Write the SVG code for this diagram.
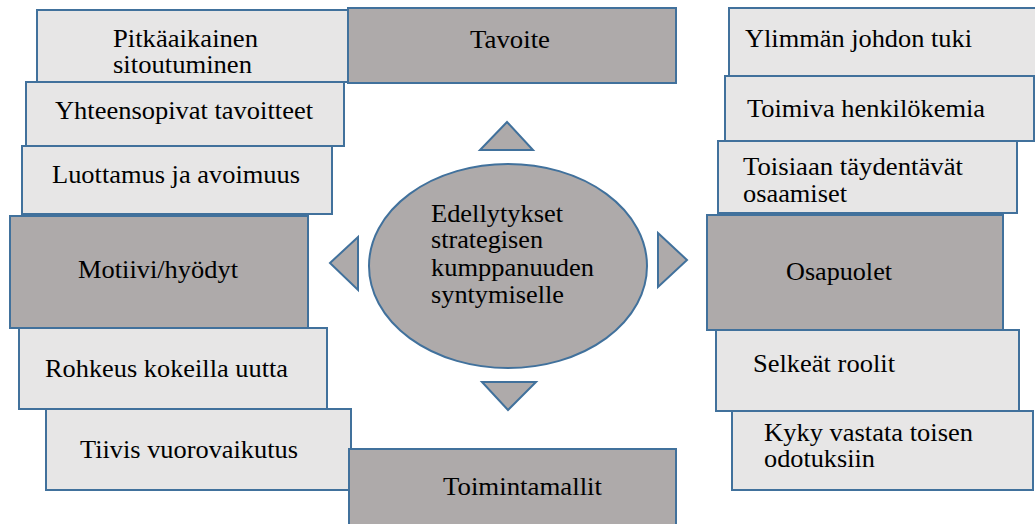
<svg xmlns="http://www.w3.org/2000/svg" width="1035" height="524" viewBox="0 0 1035 524">
<style>
.lt{fill:#e7e6e6;stroke:#41719c;stroke-width:2}
.dk{fill:#aeaaaa;stroke:#41719c;stroke-width:2}
text{font-family:'Liberation Serif','Times New Roman',serif;font-size:24.5px;fill:#000}
</style>
<rect width="1035" height="524" fill="#ffffff"/>
<g id="n-pitkaaikainen"><rect class="lt" x="37" y="10" width="311" height="72"/><text x="113" y="47" textLength="145" lengthAdjust="spacingAndGlyphs">Pitkäaikainen</text><text x="113" y="73" textLength="139" lengthAdjust="spacingAndGlyphs">sitoutuminen</text></g>
<g id="n-yhteensopivat"><rect class="lt" x="26" y="82" width="318" height="64"/><text x="55" y="119" textLength="258" lengthAdjust="spacingAndGlyphs">Yhteensopivat tavoitteet</text></g>
<g id="n-luottamus"><rect class="lt" x="22" y="146" width="310" height="68"/><text x="52" y="183" textLength="248" lengthAdjust="spacingAndGlyphs">Luottamus ja avoimuus</text></g>
<g id="n-motiivi"><rect class="dk" x="10" y="216" width="298" height="112"/><text x="78" y="278" textLength="160" lengthAdjust="spacingAndGlyphs">Motiivi/hyödyt</text></g>
<g id="n-rohkeus"><rect class="lt" x="19" y="328" width="308" height="81"/><text x="45" y="377" textLength="243" lengthAdjust="spacingAndGlyphs">Rohkeus kokeilla uutta</text></g>
<g id="n-tiivis"><rect class="lt" x="46" y="409" width="305" height="81"/><text x="80" y="458" textLength="218" lengthAdjust="spacingAndGlyphs">Tiivis vuorovaikutus</text></g>
<g id="n-tavoite"><rect class="dk" x="348" y="8" width="328" height="75"/><text x="470" y="48" textLength="80" lengthAdjust="spacingAndGlyphs">Tavoite</text></g>
<g id="n-toimintamallit"><rect class="dk" x="349" y="449" width="327" height="82"/><text x="443" y="495" textLength="159" lengthAdjust="spacingAndGlyphs">Toimintamallit</text></g>
<g id="n-ylimman"><rect class="lt" x="729" y="8" width="312" height="68"/><text x="745" y="47" textLength="227" lengthAdjust="spacingAndGlyphs">Ylimmän johdon tuki</text></g>
<g id="n-toimiva"><rect class="lt" x="725" y="76" width="309" height="65"/><text x="747" y="117" textLength="238" lengthAdjust="spacingAndGlyphs">Toimiva henkilökemia</text></g>
<g id="n-toisiaan"><rect class="lt" x="718" y="141" width="299" height="72"/><text x="743" y="175" textLength="220" lengthAdjust="spacingAndGlyphs">Toisiaan täydentävät</text><text x="743" y="202" textLength="104" lengthAdjust="spacingAndGlyphs">osaamiset</text></g>
<g id="n-osapuolet"><rect class="dk" x="707" y="215" width="296" height="115"/><text x="786" y="280" textLength="106" lengthAdjust="spacingAndGlyphs">Osapuolet</text></g>
<g id="n-selkeat"><rect class="lt" x="716" y="330" width="303" height="81"/><text x="753" y="372" textLength="142" lengthAdjust="spacingAndGlyphs">Selkeät roolit</text></g>
<g id="n-kyky"><rect class="lt" x="732" y="411" width="301" height="79"/><text x="764" y="441" textLength="209" lengthAdjust="spacingAndGlyphs">Kyky vastata toisen</text><text x="764" y="467" textLength="111" lengthAdjust="spacingAndGlyphs">odotuksiin</text></g>
<g id="n-center"><ellipse class="dk" cx="508" cy="266" rx="139" ry="102"/><text x="431" y="222" textLength="132" lengthAdjust="spacingAndGlyphs">Edellytykset</text><text x="431" y="248" textLength="112" lengthAdjust="spacingAndGlyphs">strategisen</text><text x="431" y="276" textLength="163" lengthAdjust="spacingAndGlyphs">kumppanuuden</text><text x="431" y="303" textLength="133" lengthAdjust="spacingAndGlyphs">syntymiselle</text></g>
<g id="connectors">
<polygon class="dk" points="507,122 533,150 480,150"/>
<polygon class="dk" points="482,382 536,382 508,410"/>
<polygon class="dk" points="330,263 358,237 358,290"/>
<polygon class="dk" points="658,233 687,260 658,287"/>
</g>
</svg>
